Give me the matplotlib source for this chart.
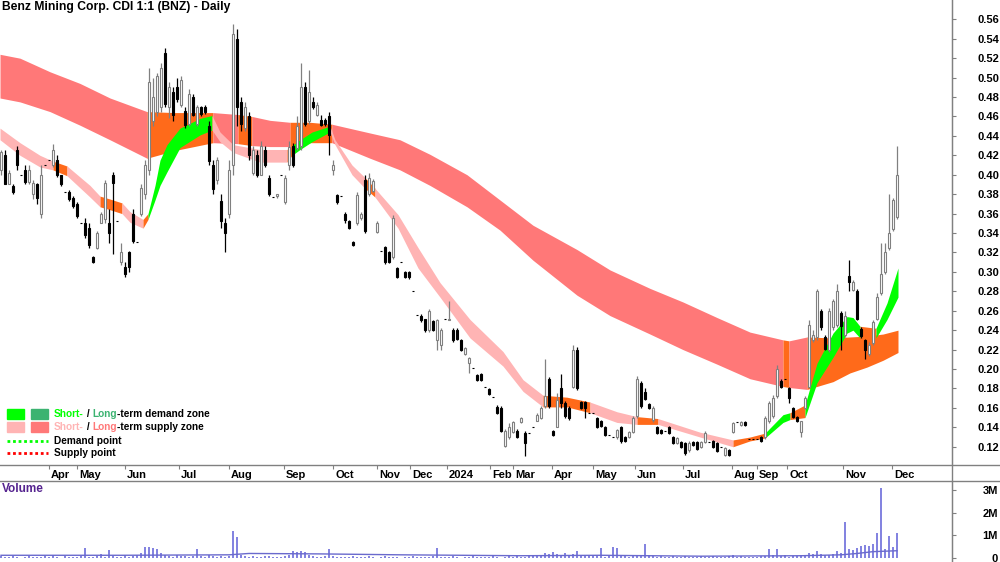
import numpy as np
import matplotlib.pyplot as plt
import matplotlib.transforms as mtransforms
from matplotlib.patches import Rectangle
from matplotlib.lines import Line2D

plt.rcParams['font.family'] = ['Liberation Sans', 'DejaVu Sans']
plt.rcParams['font.weight'] = 'bold'
plt.rcParams['font.size'] = 8

# daily bars, prices in cents (one entry per trading bar)
opens = [40.5, 42, 39, 38.8, 42.5, 40, 40.5, 39.3, 38, 39, 36, 41, 41.5, 41, 41.5, 40, 38.2, 38.2, 37.6, 37,
         35, 35, 34.5, 31.5, 32.5, 35, 35.4, 35, 40, 35.2, 31, 30.5, 32, 36, 33.1, 36, 38, 40.5, 45.5, 46.5,
         47, 52.5, 47, 48.5, 49, 47.2, 46.6, 45.2, 48, 45.2, 47, 47, 45, 41, 39.5, 37.3, 35, 36, 41, 54,
         47.5, 44.8, 46, 40.2, 42, 40, 42.5, 39.7, 37.7, 37.8, 40, 37.2, 41, 43, 42.8, 43, 49, 45.5, 47.5, 46.1,
         45.6, 45.6, 46, 40.5, 37.9, 37.8, 36, 35.2, 33.1, 35, 35.5, 39.5, 38, 38.3, 34.1, 32.1, 32.6, 32, 31.5, 30.4,
         31, 30, 30, 28, 25.6, 25.5, 25.1, 24, 24.9, 23, 22.5, 25.2, 25, 24, 24, 23, 21.5, 20.6, 20.1, 19.4,
         19.5, 18.1, 17.9, 17.1, 16.1, 16, 12.1, 13, 13.5, 13.6, 14.5, 13.4, 13.4, 14, 14.7, 15, 16.2, 19, 13.6, 14,
         18, 16.5, 16, 18.2, 22, 16.6, 16.6, 15.5, 15.5, 15, 14.7, 14, 13.2, 13, 13, 14, 13, 13, 13.5, 15.2,
         18.6, 17.6, 16.4, 14.8, 14, 13.7, 13.6, 14, 13, 12.4, 12.5, 12.4, 11.7, 12.5, 12.5, 12, 12.5, 12.5, 12.6, 12.4,
         12, 11.2, 11.7, 13.5, 14.5, 14.2, 14.5, 12.8, 12.8, 12.8, 13, 13, 14.6, 15.2, 17.2, 18.8, 19, 18, 16, 15.1,
         13.5, 16, 18.2, 23, 23.3, 26, 23.3, 22, 24.3, 24.5, 25.8, 23.5, 29.6, 28.1, 28, 24.1, 23, 21.5, 22.7, 25.2,
         27.8, 30, 32.5, 34.4, 35.6]
highs = [42.5, 42.5, 40.5, 39, 43, 40, 41, 41, 39.5, 39.2, 41, 41, 41.5, 43.2, 42, 40, 38.2, 38.4, 37.8, 37.2,
         35, 35.5, 35, 31.6, 34.2, 36.2, 39.5, 36.5, 40.3, 35.2, 33, 31, 32.2, 36.5, 33.1, 39, 41.5, 51, 50, 50.5,
         51.5, 53.1, 49.5, 49, 50, 50.2, 47, 48.8, 48.3, 47.2, 47.1, 47.2, 45.5, 41.5, 41.8, 38, 35.5, 41.5, 55.5, 55,
         48, 47.5, 46.5, 43, 42.5, 43.5, 43, 40, 37.7, 38, 40, 40, 43.5, 43.3, 46, 51.5, 49.5, 50.8, 48, 47.5,
         46.2, 45.8, 46.5, 41.5, 38, 37.8, 36.2, 35.3, 33.2, 38.2, 36.2, 40, 40.2, 39.6, 35.2, 32.1, 32.7, 32.2, 35.9, 30.5,
         31, 30.1, 30.1, 28, 25.6, 25.7, 25.2, 26.2, 25, 25.2, 24.2, 25.2, 27, 24.2, 24.2, 23.1, 22.3, 21.2, 20.1, 19.5,
         19.6, 18.1, 18, 17.1, 16.3, 16.2, 13.8, 14.4, 14.7, 13.8, 15.1, 13.6, 13.4, 14, 15.5, 16.2, 21, 19.2, 13.7, 17.5,
         19.5, 16.7, 16.2, 22.5, 22.3, 16.7, 16.7, 15.5, 15.5, 15.1, 14.8, 14.1, 13.2, 13, 13.8, 14.1, 13.1, 13.6, 15.2, 19.3,
         18.8, 18, 16.5, 16.2, 14.1, 13.8, 13.6, 14.1, 13.1, 13, 12.6, 12.5, 12.6, 12.6, 12.6, 12.6, 13.6, 12.5, 12.7, 12.5,
         12, 12, 11.8, 14.5, 14.5, 14.6, 14.6, 12.8, 12.8, 12.8, 13.1, 15.2, 16.7, 17.3, 20.4, 19, 19, 18.1, 16.1, 15.2,
         14.7, 17.2, 25, 24, 28.2, 26.2, 23.5, 26.3, 27.2, 28.8, 26, 26, 31.2, 29.2, 28.2, 24.3, 23.1, 22.8, 25, 27.8,
         33, 33, 38, 37.6, 43]
lows = [40, 39, 39, 38, 40.5, 40, 39, 39, 37.5, 37, 35.5, 41, 41.5, 40.8, 39.8, 38.8, 38.2, 37.3, 36.6, 35.5,
        35, 33.5, 32.5, 30.9, 32.4, 35, 35, 33, 31.8, 35.2, 30.7, 29.5, 30, 33, 33.1, 35.8, 37.5, 40, 45, 46,
        46.5, 47, 45.8, 45.5, 47.5, 47, 44.8, 45, 46, 45, 46, 46.3, 41, 38, 39, 34.5, 32, 35.5, 40, 45,
        44.5, 44.5, 41.5, 40, 39.8, 40, 40.8, 37.8, 37.7, 37.6, 40, 37, 40.5, 40.8, 42.5, 42.5, 45, 45.2, 46.8, 46,
        45, 45, 42, 40, 37, 37.8, 35, 34.4, 32.7, 34.8, 35.3, 34, 37.8, 38.2, 34, 32.1, 30.8, 30.9, 31.3, 29.4,
        31, 29.4, 29.3, 28, 25.6, 24.8, 23.8, 23.8, 23.9, 22, 22, 25.2, 25, 22.8, 23, 21.9, 21.4, 19.6, 20.1, 18.8,
        18.8, 18.1, 17.3, 17.1, 15.4, 13.5, 12, 12.8, 13.4, 12.9, 14.4, 11, 13.4, 14, 14.6, 14.9, 16, 16, 13.1, 14,
        16, 15, 14.8, 18, 17.8, 15.9, 15, 15.5, 15.5, 13.9, 14, 13.1, 13.2, 13, 12.8, 12.4, 12.5, 12.9, 13.4, 15,
        16, 16.8, 15.9, 14.5, 13.3, 13.3, 13.6, 13.3, 12.3, 12.3, 11.9, 11.2, 11.5, 12.1, 11.7, 11.9, 12.4, 12.5, 11.9, 11.5,
        12, 11, 11, 13.4, 14.5, 14.1, 14.1, 12.8, 12.8, 12.8, 12.5, 12.8, 14.4, 15, 17, 18, 19, 16.5, 15, 14.5,
        13, 15.9, 18, 22.8, 23, 24, 22, 21.8, 24, 24.3, 22, 23.3, 28, 28, 25, 23.2, 21, 21.3, 22.5, 25,
        27.6, 29.8, 32.3, 34.2, 35.4]
closes = [42.3, 39, 40.2, 38.2, 41, 40, 39.3, 40.5, 39.2, 37.6, 40, 41, 41.5, 42.5, 40, 39, 38.2, 37.5, 36.8, 35.8,
          35, 33.8, 32.8, 31, 34, 36, 39.2, 34, 39.2, 35.2, 32, 29.8, 30.5, 33.2, 33.1, 38.6, 41, 49.5, 48, 50.2,
          51, 47.3, 49, 46.2, 47.8, 49.8, 45.1, 48.3, 46.2, 47, 46.3, 46.5, 41.4, 38.5, 41.5, 35.2, 34, 40.5, 54.5, 47,
          45.2, 47, 42, 42.5, 40, 43, 41, 38, 37.7, 38, 40, 39.7, 42.9, 41, 45, 49, 45.2, 48.5, 47, 47.2,
          45.1, 45.2, 44.1, 41, 37.2, 37.8, 35.3, 34.5, 32.8, 37.9, 36, 34.2, 39.7, 39.4, 35, 32.1, 31, 31, 35.5, 29.5,
          31, 29.5, 29.5, 28, 25.6, 25, 24, 26, 24, 25, 24, 25.2, 25.2, 23, 23.1, 22, 22.2, 21.1, 20.1, 18.9,
          18.9, 18.1, 17.4, 17.1, 15.5, 13.6, 13.6, 14, 14.5, 13, 15, 12.4, 13.4, 14, 15.3, 16, 17.2, 16.2, 13.2, 16.8,
          16.5, 15.2, 15, 22, 18, 16, 16, 15.5, 15.5, 14, 14.1, 13.2, 13.2, 13, 13.7, 12.6, 12.6, 13.5, 15, 19,
          16.2, 16.9, 16, 16, 13.4, 13.4, 13.6, 13.4, 12.4, 12.9, 12, 11.4, 12.4, 12.2, 11.8, 12.5, 13.4, 12.5, 12, 11.6,
          12, 11.9, 11.1, 14.4, 14.5, 14.5, 14.2, 12.8, 12.8, 12.8, 12.6, 15, 16.5, 17, 20, 18.1, 19, 17, 15.1, 14.6,
          14.6, 17, 24.5, 23.5, 28, 24.3, 22.1, 26, 27, 28, 24.4, 25.5, 29, 29, 25.1, 23.4, 22, 22.5, 24.8, 27.4,
          29.8, 32, 34, 37.4, 40]

# volume, in units of 10,000 shares
volume = [8, 3, 5, 10, 4, 2, 6, 9, 3, 5, 4, 7, 3, 12, 5, 2, 8, 4, 6, 3,
          9, 44, 5, 3, 7, 18, 6, 35, 10, 4, 6, 12, 5, 8, 14, 20, 48, 50, 45, 40,
          22, 15, 9, 6, 12, 8, 10, 5, 7, 40, 8, 6, 14, 9, 5, 7, 4, 10, 119, 93,
          12, 8, 6, 9, 5, 3, 7, 11, 4, 6, 5, 8, 14, 30, 28, 30, 25, 12, 9, 6,
          4, 7, 40, 8, 5, 3, 6, 4, 9, 5, 3, 6, 8, 4, 2, 5, 7, 3, 4, 6,
          2, 5, 3, 8, 4, 6, 3, 5, 9, 45, 6, 3, 4, 8, 5, 2, 6, 3, 7, 4,
          5, 3, 6, 9, 4, 2, 5, 7, 3, 8, 4, 6, 12, 15, 9, 14, 20, 18, 25, 16,
          12, 22, 15, 18, 30, 14, 10, 8, 12, 9, 44, 6, 10, 50, 45, 8, 12, 6, 9, 14,
          7, 60, 10, 8, 5, 9, 6, 4, 7, 3, 5, 8, 4, 6, 3, 7, 5, 4, 9, 3,
          6, 4, 8, 12, 5, 7, 4, 3, 6, 5, 8, 10, 40, 14, 40, 9, 12, 6, 8, 10,
          14, 12, 20, 18, 30, 16, 12, 14, 18, 30, 22, 160, 40, 35, 45, 55, 58, 55, 60, 110,
          310, 40, 95, 50, 110]
vol_avg_x = [0, 30, 57, 62, 80, 100, 130, 150, 175, 200, 210, 214, 218, 224]
vol_avg = [12, 12, 14, 20, 18, 14, 10, 12, 8, 10, 14, 20, 28, 32]

# long-term zone (cents); colour key per segment start: r = supply, o = mixed
long_x = [-0.25, 4.75, 12.25, 19.75, 27.25, 36.5, 43.5, 53, 59.25, 62.75, 67.25, 72.25, 77.25, 82.75, 92.25, 99.75,
          107.25, 116.5, 124.75, 133, 144, 152.25, 162.25, 170.5, 179, 187.25, 195.5, 197, 201.5, 208, 212.25,
          216.5, 220.5, 224.25]
long_top = [52.4, 52.0, 50.6, 49.4, 47.9, 46.5, 46.4, 46.4, 46.2, 46.0, 45.6, 45.4, 45.4, 45.2, 44.3, 43.6, 42.1,
            40.0, 37.4, 34.8, 32.3, 30.2, 28.3, 26.9, 25.3, 23.8, 23.0, 22.9, 23.3, 23.2, 23.3, 23.4, 23.6, 24.0]
long_bot = [47.9, 47.5, 46.5, 45.1, 43.6, 41.7, 42.5, 43.3, 43.2, 43.0, 42.9, 42.9, 43.3, 43.3, 41.7, 40.5, 38.9,
            36.7, 34.3, 31.2, 27.6, 25.5, 23.6, 22.0, 20.5, 19.0, 18.2, 18.1, 17.9, 18.7, 19.6, 20.2, 20.9, 21.7]
long_key = "rrrrr" + "oo" + "r" + "o" + "rr" + "oo" + "r" * 13 + "o" + "r" + "o" * 6

# short-term zone (cents); p = supply, g = demand, o = mixed
short_x = [-0.25, 4.75, 9.75, 13, 16.5, 22.25, 24.75, 27.25, 30.25, 32.25, 35.5, 36.75, 38.5, 39.75, 41.5, 44.75,
           49.75, 52.75, 54.75, 58, 64.75, 71.5, 72.75, 74.75, 77.75, 82.25, 83.5, 87.75, 91, 93.5, 99.25, 104.25,
           109.75, 117.25, 125.5, 130.5, 135.5, 141.5, 147.25, 154, 159, 164.25, 174.75, 183, 187.25, 191, 195.5,
           197.25, 201, 204, 208, 211.5, 213, 214.75, 218.75, 221.5, 224.25]
short_top = [44.8, 43.3, 42.0, 41.4, 40.9, 38.9, 37.8, 37.5, 37.1, 36.2, 35.4, 36.0, 38.9, 41.5, 43.1, 44.8, 45.8,
             46.1, 44.4, 43.1, 42.6, 42.6, 43.0, 43.6, 44.4, 45.0, 43.6, 41.0, 39.7, 38.6, 35.9, 32.5, 28.9, 25.1,
             21.8, 18.9, 17.3, 17.1, 16.6, 15.6, 15.1, 14.9, 13.5, 12.7, 13.0, 13.4, 15.3, 15.5, 16.3, 20.6, 23.7,
             25.4, 25.3, 24.4, 24.2, 26.8, 30.4]
short_bot = [43.6, 42.0, 40.8, 40.5, 39.9, 37.7, 36.7, 36.4, 36.0, 35.1, 34.5, 35.4, 37.4, 38.9, 40.3, 42.8, 44.1,
             44.6, 43.4, 42.3, 41.3, 41.3, 42.0, 42.6, 43.4, 44.4, 43.1, 40.0, 38.6, 37.7, 34.5, 30.4, 27.4, 23.2,
             20.3, 17.7, 16.1, 16.1, 15.5, 14.5, 14.3, 14.3, 13.0, 12.0, 12.6, 12.9, 14.5, 14.8, 15.0, 18.6, 21.2,
             23.7, 24.0, 23.2, 23.2, 25.1, 27.4]
short_key = ("ppp" + "o" + "pp" + "oo" + "pp" + "o" + "gggggg" + "pppp" + "o" + "ggg" + "ppp" + "o" + "ppppppp"
             + "oo" + "pp" + "o" + "pp" + "oo" + "gg" + "o" + "ggggg" + "o" + "ggg")

month_pos = [12, 19, 31, 44.5, 57, 70.75, 83, 94, 102.25, 111.5, 122.25, 128, 137.75, 148, 158.5, 170.5,
             182.75, 189, 196.5, 210.5, 222.75]
month_lab = ['Apr', 'May', 'Jun', 'Jul', 'Aug', 'Sep', 'Oct', 'Nov', 'Dec', '2024', 'Feb', 'Mar', 'Apr', 'May',
             'Jun', 'Jul', 'Aug', 'Sep', 'Oct', 'Nov', 'Dec']
price_ticks = [0.12, 0.14, 0.16, 0.18, 0.20, 0.22, 0.24, 0.26, 0.28, 0.30, 0.32, 0.34, 0.36, 0.38, 0.40, 0.42,
               0.44, 0.46, 0.48, 0.50, 0.52, 0.54, 0.56]

zone_colors = {'r': '#ff7878', 'o': '#ff6a1a', 'p': '#ffb4b4', 'g': '#00ff00'}
GREY = '#808080'


def draw_zone(ax, xs, top, bot, keys, z):
    xs = np.asarray(xs)
    top = np.asarray(top) / 100
    bot = np.asarray(bot) / 100
    n = len(xs) - 1
    i = 0
    while i < n:
        j = i
        while j + 1 < n and keys[j + 1] == keys[i]:
            j += 1
        sl = slice(i, j + 2)
        ax.fill_between(xs[sl], bot[sl], top[sl], color=zone_colors[keys[i]], lw=0, zorder=z)
        i = j + 1


fig = plt.figure(figsize=(10, 5.62), dpi=100)
ax = fig.add_axes([0, 1 - 465 / 562, 0.952, 465 / 562])
vax = fig.add_axes([0, 0, 0.952, 1 - 481 / 562], sharex=ax)

draw_zone(ax, long_x, long_top, long_bot, long_key, 1)
draw_zone(ax, short_x, short_top, short_bot, short_key, 2)

o = np.array(opens) / 100
h = np.array(highs) / 100
l = np.array(lows) / 100
c = np.array(closes) / 100
x = np.arange(len(c))
up = c > o
col = np.where(up, GREY, 'black')
ax.vlines(x, l, h, colors=col, lw=0.9, zorder=3)
ax.bar(x[up], (c - o)[up], bottom=o[up], width=0.6, facecolor='white', edgecolor=GREY, lw=0.8, zorder=4)
ax.bar(x[~up], (o - c)[~up], bottom=c[~up], width=0.6, facecolor='black', edgecolor='black', lw=0.8, zorder=4)

ax.set_xlim(-0.25, 237.75)
ax.set_ylim(0.1012, 0.5799)
for s in ['left', 'top', 'bottom']:
    ax.spines[s].set_visible(False)
ax.spines['right'].set_color(GREY)
ax.yaxis.tick_right()
ax.set_yticks(price_ticks)
ax.set_yticklabels([f'{v:.2f}' for v in price_ticks])
ax.tick_params(axis='y', length=3, pad=15.5, color=GREY, labelsize=8)
ax.set_xticks(month_pos)
ax.set_xticklabels(month_lab)
ax.tick_params(axis='x', length=3, pad=0.3, color=GREY, labelsize=8)
shift = mtransforms.ScaledTranslation(1.5 / 72, 0, fig.dpi_scale_trans)
for lab in ax.get_xticklabels():
    lab.set_ha('left')
    lab.set_transform(lab.get_transform() + shift)

vol = np.array(volume) * 1e4
vax.bar(x, vol, width=0.35, color='#8484e0', zorder=2)
vax.plot(vol_avg_x, np.array(vol_avg) * 1e4, color='#6a6acd', lw=1, zorder=3)
vax.set_ylim(-0.176e6, 3.39e6)
for s in ['left', 'top', 'bottom']:
    vax.spines[s].set_visible(False)
vax.spines['right'].set_color(GREY)
vax.yaxis.tick_right()
vax.set_yticks([0, 1e6, 2e6, 3e6])
vax.set_yticklabels(['0', '1M', '2M', '3M'])
vax.tick_params(axis='y', length=3, pad=30, color=GREY, labelsize=8)
for lab in vax.get_yticklabels():
    lab.set_ha('right')
vax.tick_params(axis='x', bottom=False, labelbottom=False)

# frame lines running across the full width
fig.add_artist(Line2D([0, 1], [1 - 465 / 562] * 2, color=GREY, lw=1))
fig.add_artist(Line2D([0, 1], [1 - 481 / 562] * 2, color=GREY, lw=1))
fig.add_artist(Line2D([0.952, 0.952], [0, 1], color=GREY, lw=1))

fig.text(0.002, 1 - 7 / 562, 'Benz Mining Corp. CDI 1:1 (BNZ) - Daily', va='center', ha='left', fontsize=8.7)
fig.text(0.002, 1 - 489 / 562, 'Volume', va='center', ha='left', color='#55238f', fontsize=8.5)

# legend
H = 562.0
fig.add_artist(Rectangle((7 / 1000, 1 - 419 / H), 17 / 1000, 10 / H, transform=fig.transFigure, color='#00ff00'))
fig.add_artist(Rectangle((31 / 1000, 1 - 419 / H), 17 / 1000, 10 / H, transform=fig.transFigure, color='#3cb371'))
fig.add_artist(Rectangle((7 / 1000, 1 - 432 / H), 17 / 1000, 10 / H, transform=fig.transFigure, color='#ffb4b4'))
fig.add_artist(Rectangle((31 / 1000, 1 - 432 / H), 17 / 1000, 10 / H, transform=fig.transFigure, color='#ff7878'))
fig.add_artist(Line2D([7 / 1000, 48 / 1000], [1 - 441 / H] * 2, color='#00ff00', lw=2, ls=(0, (1, 1))))
fig.add_artist(Line2D([7 / 1000, 48 / 1000], [1 - 453 / H] * 2, color='#ff0000', lw=2, ls=(0, (1, 1))))

rows = [
    (414, [('Short-', '#00ff00'), ('/ ', 'black'), ('Long', '#3cb371'), ('-term demand zone', 'black')]),
    (427, [('Short-', '#ffb4b4'), ('/ ', 'black'), ('Long', '#ff7878'), ('-term supply zone', 'black')]),
    (441, [('Demand point', 'black')]),
    (453, [('Supply point', 'black')]),
]
for yy, parts in rows:
    prev = ax.text(54 / 952, (465 - yy) / 465, parts[0][0], color=parts[0][1], transform=ax.transAxes,
                   va='center', ha='left', zorder=6, fontsize=7.3)
    for s, cc in parts[1:]:
        prev = ax.annotate(' ' + s if s.startswith('/') else s, xy=(1, 0), xycoords=prev, va='bottom',
                           ha='left', color=cc, zorder=6, fontsize=7.3)

fig.savefig('out.png', dpi=100, facecolor='white')
